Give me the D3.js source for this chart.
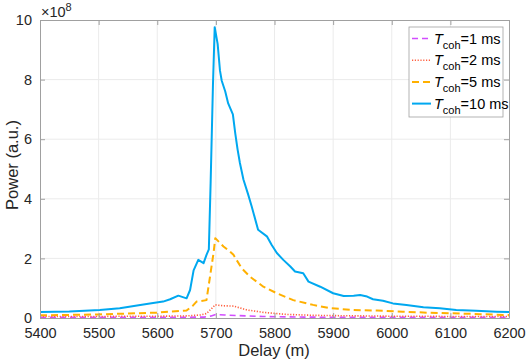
<!DOCTYPE html>
<html><head><meta charset="utf-8">
<script src="https://cdn.jsdelivr.net/npm/d3@7"></script>
<style>body{margin:0;background:#fff}svg{display:block;font-family:Arial,"Liberation Sans",sans-serif}</style>
</head><body><svg id="c" width="526" height="363"></svg>
<script>
// Values in units of 1e8
const xTicks = [5400,5500,5600,5700,5800,5900,6000,6100,6200];
const yTicks = [0,2,4,6,8,10];
const legendLabels = ["=1 ms","=2 ms","=5 ms","=10 ms"];

const delay10 = [5400,5450,5502,5536,5571,5593,5610,5622,5636,5650,5656,5662,5670,5679,5684,5688,5691,5695,5698,5703,5707,5710,5716,5721,5729,5733,5737,5741,5747,5755,5761,5772,5787,5795,5804,5815,5827,5835,5849,5858,5878,5900,5918,5935,5946,5958,5968,5985,6002,6025,6054,6082,6110,6144,6179,6200];
const power10 = [0.2,0.22,0.27,0.33,0.44,0.5,0.55,0.63,0.75,0.66,0.94,1.6,1.95,1.84,2.12,2.3,4.5,7.8,9.76,9.2,8.3,7.96,7.6,7.2,6.83,6.2,5.66,5.2,4.65,4.15,3.75,2.96,2.74,2.46,2.18,1.95,1.73,1.56,1.5,1.22,1.05,0.83,0.74,0.75,0.77,0.72,0.63,0.58,0.49,0.44,0.36,0.33,0.27,0.24,0.21,0.2];

const delay5 = [5400,5500,5599,5650,5660,5667,5684,5690,5696,5699,5713,5724,5730,5744,5758,5781,5804,5832,5866,5894,5935,5975,6019,6060,6099,6150,6190,6200];
const power5 = [0.09,0.12,0.18,0.25,0.4,0.55,0.6,1.39,2.18,2.68,2.4,2.23,2.12,1.67,1.39,1.05,0.83,0.6,0.44,0.33,0.27,0.25,0.21,0.18,0.16,0.13,0.1,0.1];

const delay2 = [5400,5450,5500,5550,5600,5650,5673,5684,5692,5699,5713,5730,5753,5781,5821,5866,5900,5950,6000,6050,6100,6150,6200];
const power2 = [0.05,0.05,0.05,0.06,0.06,0.07,0.1,0.15,0.3,0.44,0.41,0.4,0.27,0.19,0.12,0.09,0.08,0.07,0.06,0.06,0.05,0.05,0.05];

const delay1 = [5400,5500,5600,5680,5692,5700,5715,5740,5780,5850,5950,6050,6200];
const power1 = [0.02,0.02,0.02,0.03,0.07,0.12,0.1,0.08,0.05,0.03,0.02,0.02,0.02];

const series = [
  {x:delay1,y:power1,color:"#d24dff",dash:"6,4",w:1.6},
  {x:delay2,y:power2,color:"#ff6040",dash:"1.2,1.6",w:1.6},
  {x:delay5,y:power5,color:"#ffb000",dash:"7,4",w:2},
  {x:delay10,y:power10,color:"#00a8f0",dash:null,w:2}
];

const L=40,R=509,T=20,B=318;
const svg=d3.select("#c");
const x=d3.scaleLinear().domain([5400,6200]).range([L,R]);
const y=d3.scaleLinear().domain([0,10]).range([B,T]);

// grid
svg.append("g").selectAll("line").data(xTicks.slice(1,-1)).join("line")
  .attr("x1",d=>x(d)).attr("x2",d=>x(d)).attr("y1",T).attr("y2",B)
  .attr("stroke","#ebebeb").attr("stroke-width",1);
svg.append("g").selectAll("line").data(yTicks.slice(1,-1)).join("line")
  .attr("y1",d=>y(d)).attr("y2",d=>y(d)).attr("x1",L).attr("x2",R)
  .attr("stroke","#ebebeb").attr("stroke-width",1);

// series
svg.append("clipPath").attr("id","cp").append("rect").attr("x",L).attr("y",T-2).attr("width",R-L).attr("height",B-T+2);
series.forEach(s=>{
  const pts=s.x.map((d,i)=>[d,s.y[i]]);
  svg.append("path").datum(pts).attr("clip-path","url(#cp)")
    .attr("d",d3.line().x(d=>x(d[0])).y(d=>y(d[1])))
    .attr("fill","none").attr("stroke",s.color).attr("stroke-width",s.w)
    .attr("stroke-dasharray",s.dash).attr("stroke-linejoin","round");
});

// axes
const axCol="#a0a0a0";
const xb=svg.append("g").attr("transform",`translate(0,${B})`)
  .call(d3.axisBottom(x).tickValues(xTicks).tickFormat(d3.format("d")).tickSizeInner(-5).tickSizeOuter(0).tickPadding(10));
const xt=svg.append("g").attr("transform",`translate(0,${T})`)
  .call(d3.axisTop(x).tickValues(xTicks).tickFormat("").tickSizeInner(-5).tickSizeOuter(0));
const yl=svg.append("g").attr("transform",`translate(${L},0)`)
  .call(d3.axisLeft(y).tickValues(yTicks).tickFormat(d3.format("d")).tickSizeInner(-5).tickSizeOuter(0).tickPadding(8));
const yr=svg.append("g").attr("transform",`translate(${R},0)`)
  .call(d3.axisRight(y).tickValues(yTicks).tickFormat("").tickSizeInner(-5).tickSizeOuter(0));
[xb,xt,yl,yr].forEach(g=>{
  g.select(".domain").attr("stroke",axCol);
  g.selectAll(".tick line").attr("stroke",axCol);
  g.selectAll("text").attr("fill","#262626").attr("font-size",14.5).attr("font-family","Arial, Liberation Sans, sans-serif");
});

// exponent
const ex=svg.append("text").attr("x",41).attr("y",17).attr("font-size",14.5).attr("fill","#262626");
ex.append("tspan").text("×10");
ex.append("tspan").attr("dy",-6).attr("font-size",11).text("8");

// axis labels
svg.append("text").attr("x",274).attr("y",356).attr("text-anchor","middle").attr("font-size",16.5).attr("fill","#262626").text("Delay (m)");
svg.append("text").attr("transform",`translate(18,165) rotate(-90)`).attr("text-anchor","middle").attr("font-size",16.5).attr("fill","#262626").text("Power (a.u.)");

// legend
const lg=svg.append("g");
lg.append("rect").attr("x",409).attr("y",27).attr("width",94).attr("height",90).attr("fill","#fff").attr("stroke","#a0a0a0").attr("stroke-width",0.8);
series.forEach((s,i)=>{
  const cy=38.5+i*21.7;
  lg.append("line").attr("x1",412).attr("x2",431).attr("y1",cy).attr("y2",cy)
    .attr("stroke",s.color).attr("stroke-width",s.w).attr("stroke-dasharray",s.dash);
  const t=lg.append("text").attr("x",434).attr("y",cy+5).attr("font-size",14.5).attr("fill","#000");
  t.append("tspan").attr("font-style","italic").text("T");
  t.append("tspan").attr("dy",5).attr("font-size",11).text("coh");
  t.append("tspan").attr("dy",-5).text(legendLabels[i]);
});
</script></body></html>
